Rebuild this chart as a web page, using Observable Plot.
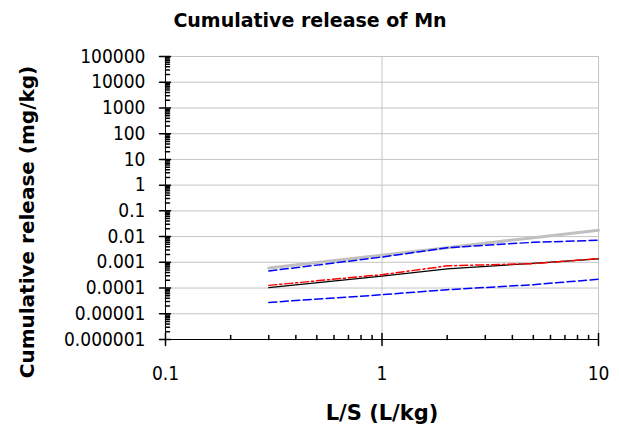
<!DOCTYPE html>
<html>
<head>
<meta charset="utf-8">
<script src="https://cdn.jsdelivr.net/npm/d3@7"></script>
<script src="https://cdn.jsdelivr.net/npm/@observablehq/plot@0.6"></script>
<style>
  html, body { margin: 0; padding: 0; background: #fff; }
  #chart { width: 619px; height: 425px; }
</style>
</head>
<body>
<div id="chart"></div>
<script>
// ---- data ----
const lsValues = [0.3, 1, 2, 5, 10];                       // L/S (L/kg)
const grayLimit = [0.0006, 0.0019, 0.0037, 0.0091, 0.0177];
const blueUpper = [0.00046, 0.0016, 0.0037, 0.006, 0.0072];
const redSeries = [0.000127, 0.00033, 0.00073, 0.00089, 0.0014];
const blackSeries = [0.000103, 0.00029, 0.00056, 0.00091, 0.00135];
const blueLower = [0.0000276, 0.000055, 0.0000863, 0.000135, 0.00022];

const xTicks = [0.1, 1, 10];
const xTickLabels = ["0.1", "1", "10"];
const yTicks = [1e-6, 1e-5, 1e-4, 1e-3, 1e-2, 1e-1, 1, 10, 100, 1000, 10000, 100000];
const yTickLabels = ["0.000001", "0.00001", "0.0001", "0.001", "0.01", "0.1", "1", "10", "100", "1000", "10000", "100000"];

const chartTitle = "Cumulative release of Mn";
const xTitle = "L/S (L/kg)";
const yTitle = "Cumulative release (mg/kg)";

// ---- build ----
const toRows = (vals) => lsValues.map((x, i) => ({x, y: vals[i]}));
const xMinor = xTicks.slice(0, -1).flatMap(d => d3.range(2, 10).map(k => k * d));
const yMinor = yTicks.slice(0, -1).flatMap(d => d3.range(2, 10).map(k => k * d));
const xLabelOf = new Map(xTicks.map((d, i) => [d, xTickLabels[i]]));
const yLabelOf = new Map(yTicks.map((d, i) => [d, yTickLabels[i]]));

const TICKFONT = "'DejaVu Sans Condensed', 'DejaVu Sans', sans-serif";
const TITLEFONT = "'DejaVu Sans', sans-serif";
const grid = "#c4c4c4";

const tickRight = {draw(c, l) { c.moveTo(0, 0); c.lineTo(l, 0); }};
const tickUp = {draw(c, l) { c.moveTo(0, 0); c.lineTo(0, -l); }};
const crossH = {draw(c, l) { c.moveTo(-6, 0); c.lineTo(l, 0); }};
const crossV = {draw(c, l) { c.moveTo(0, 6); c.lineTo(0, -l); }};

const chart = Plot.plot({
  width: 619,
  height: 425,
  marginLeft: 165,
  marginRight: 21,
  marginTop: 56,
  marginBottom: 86,
  style: {fontFamily: TICKFONT, background: "#fff", color: "#000"},
  x: {type: "log", domain: [0.1, 10], axis: null},
  y: {type: "log", domain: [1e-6, 1e5], axis: null},
  marks: [
    Plot.ruleY(yTicks.slice(1), {stroke: grid, strokeWidth: 1}),
    Plot.ruleX([1, 10], {stroke: grid, strokeWidth: 1}),
    // series
    Plot.line(toRows(grayLimit), {x: "x", y: "y", stroke: "#c0c0c0", strokeWidth: 3}),
    Plot.line(toRows(blueUpper), {x: "x", y: "y", stroke: "#0000ff", strokeWidth: 1.5, strokeDasharray: "8,3.5"}),
    Plot.line(toRows(blueLower), {x: "x", y: "y", stroke: "#0000ff", strokeWidth: 1.5, strokeDasharray: "8,3.5"}),
    Plot.line(toRows(blackSeries), {x: "x", y: "y", stroke: "#000", strokeWidth: 1.3}),
    Plot.line(toRows(redSeries), {x: "x", y: "y", stroke: "#ff0000", strokeWidth: 1.5, strokeDasharray: "8,3,2,3"}),
    // axis lines
    Plot.ruleX([0.1], {stroke: "#000"}),
    Plot.ruleY([1e-6], {stroke: "#000"}),
    // minor ticks (inside)
    Plot.vector(yMinor, {y: d => d, frameAnchor: "left", length: 4, anchor: "start", shape: tickRight, stroke: "#000"}),
    Plot.vector(xMinor, {x: d => d, frameAnchor: "bottom", length: 4, anchor: "start", shape: tickUp, stroke: "#000"}),
    // major ticks (crossing)
    Plot.vector(yTicks, {y: d => d, frameAnchor: "left", length: 5, anchor: "start", shape: crossH, stroke: "#000"}),
    Plot.vector(xTicks, {x: d => d, frameAnchor: "bottom", length: 6, anchor: "start", shape: crossV, stroke: "#000"}),
    // tick labels
    Plot.text(yTicks, {y: d => d, text: d => yLabelOf.get(d), frameAnchor: "left", dx: -20, textAnchor: "end", lineAnchor: "middle", fontSize: 19}),
    Plot.text(xTicks, {x: d => d, text: d => xLabelOf.get(d), frameAnchor: "bottom", dy: 34, textAnchor: "middle", lineAnchor: "middle", fontSize: 19}),
    // titles
    Plot.text([chartTitle], {frameAnchor: "top", dx: -72, dy: -36, textAnchor: "middle", fontFamily: TITLEFONT, fontSize: 19, fontWeight: "bold", lineAnchor: "middle"}),
    Plot.text([xTitle], {frameAnchor: "bottom", dy: 74, textAnchor: "middle", fontFamily: TITLEFONT, fontSize: 21, fontWeight: "bold", lineAnchor: "middle"}),
    Plot.text([yTitle], {frameAnchor: "left", rotate: -90, dx: -138, dy: 24, textAnchor: "middle", fontFamily: TITLEFONT, fontSize: 20, fontWeight: "bold", lineAnchor: "middle"})
  ]
});
document.getElementById("chart").appendChild(chart);
</script>
</body>
</html>
